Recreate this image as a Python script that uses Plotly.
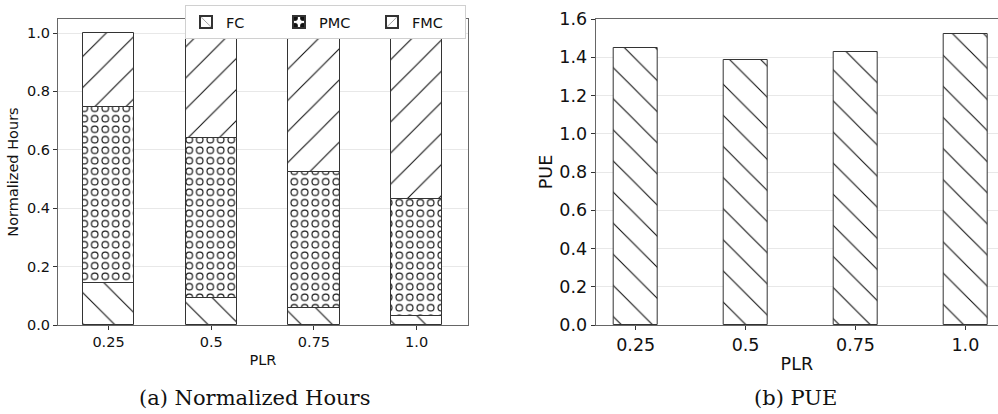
import plotly.graph_objects as go

plr = ["0.25", "0.5", "0.75", "1.0"]
fc = [0.145, 0.094, 0.057, 0.030]
pmc = [0.600, 0.547, 0.468, 0.401]
fmc = [0.255, 0.359, 0.475, 0.569]
pue = [1.450, 1.387, 1.426, 1.523]

pmc_base = fc
fmc_base = [a + b for a, b in zip(fc, pmc)]

EDGE = "#333333"
SPINE = "#666666"
GRID = "#e8e8e8"
FONT = "DejaVu Sans"
FS_L = 14.5
FS_R = 17.5


def hatch(shape, size=22, solidity=0.05, fg="#111", bg="white", **kw):
    return dict(shape=shape, size=size, solidity=solidity, fgcolor=fg, bgcolor=bg,
                fgopacity=1, **kw)


fig = go.Figure()

fig.add_trace(go.Bar(
    x=plr, y=fc, base=[0] * len(fc), name="FC", width=0.5,
    marker=dict(color="white", line=dict(color=EDGE, width=1), pattern=hatch("\\")),
    xaxis="x", yaxis="y"))
fig.add_trace(go.Bar(
    x=plr, y=pmc, base=pmc_base, name="PMC", width=0.5,
    marker=dict(color="white", line=dict(color=EDGE, width=1),
                pattern=hatch(".", size=10.5, solidity=0.42)),
    xaxis="x", yaxis="y"))
fig.add_trace(go.Bar(
    x=plr, y=pmc, base=pmc_base, name="PMC inner", width=0.5, showlegend=False,
    marker=dict(color="rgba(0,0,0,0)", line=dict(color=EDGE, width=1),
                pattern=hatch(".", size=10.5, solidity=0.21, fg="white",
                              bg="rgba(0,0,0,0)", fillmode="overlay")),
    xaxis="x", yaxis="y"))
fig.add_trace(go.Bar(
    x=plr, y=fmc, base=fmc_base, name="FMC", width=0.5,
    marker=dict(color="white", line=dict(color=EDGE, width=1), pattern=hatch("/")),
    xaxis="x", yaxis="y"))

fig.add_trace(go.Bar(
    x=plr, y=pue, name="PUE", width=0.4, showlegend=False,
    marker=dict(color="white", line=dict(color=EDGE, width=1), pattern=hatch("\\")),
    xaxis="x2", yaxis="y2"))

yd = [1 - 325 / 414, 1 - 19 / 414]

fig.update_layout(
    width=998, height=414,
    margin=dict(l=0, r=0, t=0, b=0, autoexpand=False),
    paper_bgcolor="white", plot_bgcolor="white",
    barmode="overlay", bargap=0,
    font=dict(family=FONT, color="#111"),
    xaxis=dict(domain=[58 / 998, 468 / 998], type="category", range=[-0.492, 3.5],
               showline=True, linecolor=SPINE, linewidth=1, mirror=True, automargin=False,
               ticks="outside", ticklen=4, tickcolor=EDGE, tickfont=dict(size=FS_L),
               showgrid=False, zeroline=False,
               title=dict(text="PLR", font=dict(size=FS_L), standoff=5)),
    yaxis=dict(domain=yd, range=[0, 1.048], tickvals=[0, 0.2, 0.4, 0.6, 0.8, 1.0],
               ticktext=["0.0", "0.2", "0.4", "0.6", "0.8", "1.0"],
               showline=True, linecolor=SPINE, linewidth=1, mirror=True, automargin=False,
               ticks="outside", ticklen=4, tickcolor=EDGE, tickfont=dict(size=FS_L),
               showgrid=True, gridcolor=GRID, zeroline=False,
               title=dict(text="Normalized Hours", font=dict(size=FS_L), standoff=4)),
    xaxis2=dict(domain=[595.7 / 998, 1.0], type="category", range=[-0.364, 3.297],
                anchor="y2", automargin=False,
                showline=True, linecolor=SPINE, linewidth=1, mirror=True,
                ticks="outside", ticklen=4, tickcolor=EDGE, tickfont=dict(size=FS_R),
                showgrid=False, zeroline=False,
                title=dict(text="PLR", font=dict(size=FS_R), standoff=3)),
    yaxis2=dict(domain=yd, range=[0, 1.6], anchor="x2", automargin=False,
                tickvals=[0, 0.2, 0.4, 0.6, 0.8, 1.0, 1.2, 1.4, 1.6],
                ticktext=["0.0", "0.2", "0.4", "0.6", "0.8", "1.0", "1.2", "1.4", "1.6"],
                showline=True, linecolor=SPINE, linewidth=1, mirror=False,
                ticks="outside", ticklen=4, tickcolor=EDGE, tickfont=dict(size=FS_R),
                showgrid=True, gridcolor=GRID, zeroline=False,
                title=dict(text="PUE", font=dict(size=FS_R), standoff=2)),
    legend=dict(orientation="h", x=185 / 998, y=1 - 5 / 414, xanchor="left", yanchor="top",
                bgcolor="white", bordercolor="#d0d0d0", borderwidth=1,
                font=dict(size=FS_L), entrywidth=48, traceorder="normal",
                itemsizing="constant"),
    annotations=[
        dict(text="(a) Normalized Hours", x=255 / 998, y=1 - 398 / 414, xref="paper", yref="paper",
             showarrow=False, xanchor="center", yanchor="middle",
             font=dict(family="DejaVu Serif", size=21, color="#111")),
        dict(text="(b) PUE", x=795 / 998, y=1 - 398 / 414, xref="paper", yref="paper",
             showarrow=False, xanchor="center", yanchor="middle",
             font=dict(family="DejaVu Serif", size=21, color="#111")),
    ],
)

fig.write_html("out.html")
